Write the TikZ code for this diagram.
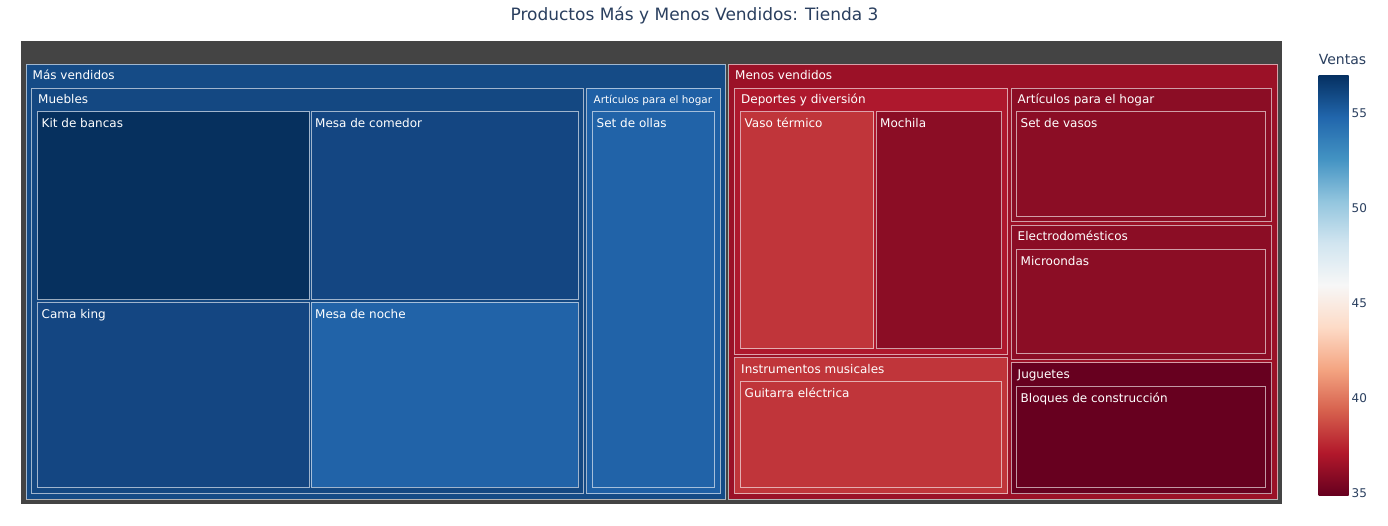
\documentclass[tikz,border=0pt]{standalone}
\usepackage{fontspec}
\setmainfont{DejaVu Sans}
\definecolor{c0}{RGB}{103,0,31}
\definecolor{c1}{RGB}{178,24,43}
\definecolor{c2}{RGB}{214,96,77}
\definecolor{c3}{RGB}{244,165,130}
\definecolor{c4}{RGB}{253,219,199}
\definecolor{c5}{RGB}{247,247,247}
\definecolor{c6}{RGB}{209,229,240}
\definecolor{c7}{RGB}{146,197,222}
\definecolor{c8}{RGB}{67,147,195}
\definecolor{c9}{RGB}{33,102,172}
\definecolor{c10}{RGB}{5,48,97}
\definecolor{rootgray}{RGB}{68,68,68}
\definecolor{titlec}{RGB}{42,63,95}
\definecolor{bMV}{RGB}{21,75,134}
\definecolor{bMueb}{RGB}{20,72,130}
\definecolor{bKit}{RGB}{6,48,94}
\definecolor{bMid}{RGB}{20,70,130}
\definecolor{bLight}{RGB}{33,99,168}
\definecolor{bArtL}{RGB}{31,96,165}
\definecolor{rMenV}{RGB}{155,17,39}
\definecolor{rDep}{RGB}{174,24,45}
\definecolor{rVaso}{RGB}{192,53,58}
\definecolor{rDark}{RGB}{139,13,37}
\definecolor{rJug}{RGB}{103,0,31}
\pgfdeclareverticalshading{rdbu}{100bp}{color(0bp)=(c0); color(25bp)=(c0); color(30bp)=(c1); color(35bp)=(c2); color(40bp)=(c3); color(45bp)=(c4); color(50bp)=(c5); color(55bp)=(c6); color(60bp)=(c7); color(65bp)=(c8); color(70bp)=(c9); color(75bp)=(c10); color(100bp)=(c10)}
\newcommand\tmbox[6]{%
  \pgfmathsetmacro\tmw{#4-#2}\pgfmathsetmacro\tmh{#5-#3}%
  \node[tmrect, fill=#6, minimum width=\tmw pt, minimum height=\tmh pt, anchor=north west] (#1) at (#2,#3) {};}
\tikzset{
  tmrect/.style={draw=white, draw opacity=0.6, line width=1pt, inner sep=0pt, outer sep=0pt},
  plbl/.style={anchor=base west, xshift=6.5pt, yshift=-15.6pt, text=white, font=\fontsize{12}{14}\selectfont, inner sep=0pt},
  llbl/.style={anchor=base west, xshift=4pt, yshift=-16pt, text=white, font=\fontsize{12}{14}\selectfont, inner sep=0pt},
  ticklbl/.style={anchor=west, text=titlec, font=\fontsize{12}{14}\selectfont, inner sep=0pt}
}
\begin{document}
\begin{tikzpicture}[x=1pt, y=-1pt]
\useasboundingbox (0,0) rectangle (1388,525);
\fill[white] (0,0) rectangle (1388,525);
% title
\node[anchor=base, text=titlec, font=\fontsize{17}{20}\selectfont, inner sep=0pt] (title) at (694.5,20) {Productos Más y Menos Vendidos: Tienda 3};
% root
\node[fill=rootgray, inner sep=0pt, outer sep=0pt, minimum width=1261.5pt, minimum height=463pt, anchor=north west] (root) at (20.5,40.5) {};
% Mas vendidos
\tmbox{MV}{26}{64}{725.5}{499}{bMV}
\tmbox{Mueb}{31.5}{88}{583.5}{493.5}{bMueb}
\tmbox{Kit}{37.5}{111.5}{309}{299.5}{bKit}
\tmbox{Comedor}{311}{111.5}{578}{299.5}{bMid}
\tmbox{Cama}{37.5}{302}{309}{487}{bMid}
\tmbox{Noche}{311}{302}{578}{487}{bLight}
\tmbox{ArtL}{586.5}{88}{720}{493.5}{bArtL}
\tmbox{Ollas}{592.5}{111.5}{714.5}{487}{bLight}
% Menos vendidos
\tmbox{MenV}{728.5}{64}{1277.5}{499}{rMenV}
\tmbox{Dep}{734.5}{88}{1007.5}{354.5}{rDep}
\tmbox{Vaso}{740.5}{111.5}{873.5}{348.5}{rVaso}
\tmbox{Mochila}{876}{111.5}{1001.5}{348.5}{rDark}
\tmbox{Instr}{734.5}{357.5}{1007.5}{493.5}{rVaso}
\tmbox{Guitarra}{740.5}{381.5}{1001.5}{487}{rVaso}
\tmbox{ArtR}{1011}{88}{1271.5}{221.5}{rDark}
\tmbox{Vasos}{1016.5}{111.5}{1265.5}{216}{rDark}
\tmbox{Electro}{1011}{225}{1271.5}{359.5}{rDark}
\tmbox{Micro}{1016.5}{249.5}{1265.5}{353.5}{rDark}
\tmbox{Jug}{1011}{362.5}{1271.5}{493.5}{rJug}
\tmbox{Bloques}{1016.5}{386}{1265.5}{487.5}{rJug}
% labels
\node[plbl] (lMV) at (MV.north west) {Más vendidos};
\node[plbl] (lMueb) at (Mueb.north west) {Muebles};
\node[llbl] (lKit) at (Kit.north west) {Kit de bancas};
\node[llbl] (lComedor) at (Comedor.north west) {Mesa de comedor};
\node[llbl] (lCama) at (Cama.north west) {Cama king};
\node[llbl] (lNoche) at (Noche.north west) {Mesa de noche};
\node[plbl, xshift=0.5pt, yshift=0.5pt, font=\fontsize{10.4}{12}\selectfont] (lArtL) at (ArtL.north west) {Artículos para el hogar};
\node[llbl] (lOllas) at (Ollas.north west) {Set de ollas};
\node[plbl] (lMenV) at (MenV.north west) {Menos vendidos};
\node[plbl] (lDep) at (Dep.north west) {Deportes y diversión};
\node[llbl] (lVaso) at (Vaso.north west) {Vaso térmico};
\node[llbl] (lMochila) at (Mochila.north west) {Mochila};
\node[plbl] (lInstr) at (Instr.north west) {Instrumentos musicales};
\node[llbl] (lGuitarra) at (Guitarra.north west) {Guitarra eléctrica};
\node[plbl] (lArtR) at (ArtR.north west) {Artículos para el hogar};
\node[llbl] (lVasos) at (Vasos.north west) {Set de vasos};
\node[plbl] (lElectro) at (Electro.north west) {Electrodomésticos};
\node[llbl] (lMicro) at (Micro.north west) {Microondas};
\node[plbl] (lJug) at (Jug.north west) {Juguetes};
\node[llbl] (lBloques) at (Bloques.north west) {Bloques de construcción};
% colorbar
\node[shading=rdbu, inner sep=0pt, outer sep=0pt, minimum width=30pt, minimum height=420pt, anchor=north west] (cbar) at (1318.5,75) {};
\node[anchor=base, text=titlec, font=\fontsize{14}{16}\selectfont, inner sep=0pt] (cbtitle) at (1342.5,64) {Ventas};
\node[ticklbl] (t55) at (1351.5,113.5) {55};
\node[ticklbl] (t50) at (1351.5,208.5) {50};
\node[ticklbl] (t45) at (1351.5,303.5) {45};
\node[ticklbl] (t40) at (1351.5,398.5) {40};
\node[ticklbl] (t35) at (1351.5,493.5) {35};
\end{tikzpicture}
\end{document}
